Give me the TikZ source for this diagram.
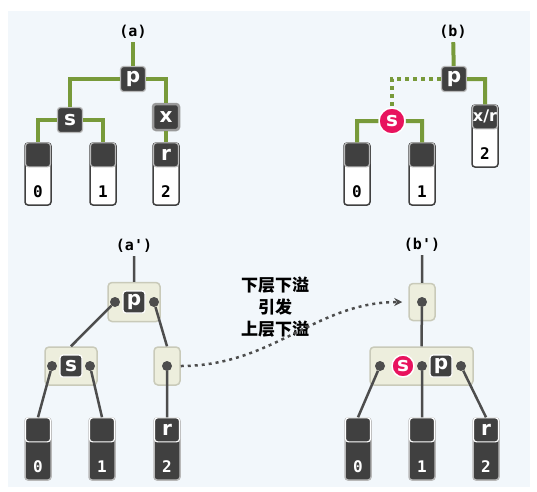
\documentclass[tikz,border=0pt]{standalone}
\usepackage{fontspec}
\setmainfont{DejaVu Sans}
\setmonofont{DejaVu Sans Mono}
\newfontfamily\cjk{Noto Sans CJK SC}
\usetikzlibrary{arrows.meta,positioning}
\definecolor{bgblue}{HTML}{F2F7FB}
\definecolor{keydark}{HTML}{404040}
\definecolor{keyedge}{HTML}{B8B8B8}
\definecolor{keyhalo}{HTML}{9A9A9A}
\definecolor{treegreen}{HTML}{789A3A}
\definecolor{selpink}{HTML}{E8135E}
\definecolor{boxfill}{HTML}{EDEEDD}
\definecolor{boxedge}{HTML}{C9CAB9}
\definecolor{linegrey}{HTML}{4D4D4D}
\tikzset{
  keybox/.style={draw=keyedge, line width=1.2pt, fill=keydark, rounded corners=3pt,
    minimum size=25pt, inner sep=0pt, text=white, font=\bfseries\fontsize{20}{20}\selectfont},
  leaf/.style={draw=keydark, line width=1.5pt, fill=white, rounded corners=3pt,
    minimum width=26pt, minimum height=62pt, inner sep=0pt, text height=46pt, text depth=0pt,
    font=\ttfamily\bfseries\fontsize{16}{16}\selectfont},
  leafdark/.style={leaf, fill=keydark, draw=keyedge, text=white},
  leafkey/.style={keybox, minimum width=25pt, minimum height=24pt},
  sel/.style={circle, fill=selpink, draw=white, line width=1.5pt, minimum size=26pt,
    inner sep=0pt, text=white, font=\bfseries\fontsize{20}{20}\selectfont},
  nbox/.style={draw=boxedge, line width=1.5pt, fill=boxfill, rounded corners=4pt, inner sep=0pt},
  dot/.style={circle, fill=linegrey, minimum size=10pt, inner sep=0pt},
  tag/.style={font=\ttfamily\bfseries\fontsize{15}{15}\selectfont},
  tline/.style={draw=treegreen, line width=4pt},
  bline/.style={draw=linegrey, line width=2.5pt},
  flow/.style={draw=linegrey, line width=2.5pt, dash pattern=on 3pt off 4pt,
    -{Stealth[length=8pt,width=8pt]}, shorten >=6pt},
  note/.style={align=center, font=\cjk\bfseries\fontsize{17}{22}\selectfont}
}

\begin{document}
\begin{tikzpicture}[x=1pt,y=-1pt]
\useasboundingbox (0,0) rectangle (537,491);
\fill[bgblue] (8,11) rectangle (530,487);

% (a)
\node[tag] (la) at (133,32) {(a)};
\node[keybox] (ap) at (133,79) {p};
\node[keybox] (as) at (70,120) {s};
\node[keybox, draw=keyhalo, line width=2.5pt, minimum size=26pt] (ax) at (166,117) {x};
\node[leaf] (a0) at (38,174) {0};
\node[leafkey, below=0pt of a0.north] (a0k) {};
\node[leaf] (a1) at (103,174) {1};
\node[leafkey, below=0pt of a1.north] (a1k) {};
\node[leaf] (a2) at (166,174) {2};
\node[leafkey, below=0pt of a2.north] (a2k) {r};
\path[tline]
  (la) -- (ap)
  (ap.west) -| (as.north)
  (ap.east) -| (ax.north)
  (as.west) -| (a0k.north)
  (as.east) -| (a1k.north)
  (ax.south) -- (a2k.north)
;

% (b)
\node[tag] (lb) at (453,32) {(b)};
\node[keybox] (bp) at (454,79) {p};
\node[sel] (bs) at (392,121) {s};
\node[leaf] (b0) at (357,174) {0};
\node[leafkey, below=0pt of b0.north] (b0k) {};
\node[leaf] (b1) at (422,174) {1};
\node[leafkey, below=0pt of b1.north] (b1k) {};
\node[leaf] (b2) at (485,136) {2};
\node[leafkey, below=0pt of b2.north, font=\bfseries\fontsize{16}{16}\selectfont] (b2k) {x/r};
\path[tline]
  (lb) -- (bp)
  (bp.east) -| (b2k.north)
  (bs.west) -| (b0k.north)
  (bs.east) -| (b1k.north)
;
\draw[tline, dash pattern=on 4pt off 4pt] (bp.west) -| (bs.north);

% (a')
\node[tag] (lc) at (134,246) {(a')};
\node[nbox, minimum width=52pt, minimum height=39pt] (cpb) at (134,302) {};
\node[keybox, draw=white, minimum size=22pt] (cp) at (134,302) {p};
\node[dot] (cpl) at (115,302) {};
\node[dot] (cpr) at (154,302) {};
\node[nbox, minimum width=52pt, minimum height=38pt] (csb) at (71,366) {};
\node[keybox, draw=white, minimum size=22pt] (cs) at (71,366) {s};
\node[dot] (csl) at (52,366) {};
\node[dot] (csr) at (90,366) {};
\node[nbox, minimum width=26pt, minimum height=38pt] (crb) at (167,366) {};
\node[dot] (crd) at (167,366) {};
\node[leafdark] (c0) at (38,449) {0};
\node[leafkey, draw=white, below=0pt of c0.north] (c0k) {};
\node[leafdark] (c1) at (102,449) {1};
\node[leafkey, draw=white, below=0pt of c1.north] (c1k) {};
\node[leafdark] (c2) at (167,449) {2};
\node[leafkey, draw=white, below=0pt of c2.north] (c2k) {r};
\path[bline]
  (lc) -- (cpb)
  (cpl) -- (csb.north)
  (cpr) -- (crb.north)
  (csl) -- (c0k.north)
  (csr) -- (c1k.north)
  (crd) -- (c2k.north)
;

% (b')
\node[tag] (ld) at (422,245) {(b')};
\node[nbox, minimum width=26pt, minimum height=37pt] (dtb) at (422,302) {};
\node[dot] (dtd) at (422,302) {};
\node[nbox, minimum width=103pt, minimum height=38pt] (dbb) at (421.5,366) {};
\node[dot] (ddl) at (380,366) {};
\node[sel, minimum size=22pt] (ds) at (403,366) {s};
\node[dot] (ddm) at (422,366) {};
\node[keybox, draw=white, minimum size=22pt] (dp) at (441,366) {p};
\node[dot] (ddr) at (461,366) {};
\node[leafdark] (d0) at (358,449) {0};
\node[leafkey, draw=white, below=0pt of d0.north] (d0k) {};
\node[leafdark] (d1) at (422,449) {1};
\node[leafkey, draw=white, below=0pt of d1.north] (d1k) {};
\node[leafdark] (d2) at (486,449) {2};
\node[leafkey, draw=white, below=0pt of d2.north] (d2k) {r};
\path[bline]
  (ld) -- (dtb)
  (dtd) -- (dbb.north)
  (ddl) -- (d0k.north)
  (ddm) -- (d1k.north)
  (ddr) -- (d2k.north)
;

% underflow propagates
\node[note] (nt) at (275,307) {下层下溢\\引发\\上层下溢};
\draw[flow] (crb.east) to[out=0,in=180] (dtb.west);
\end{tikzpicture}
\end{document}
